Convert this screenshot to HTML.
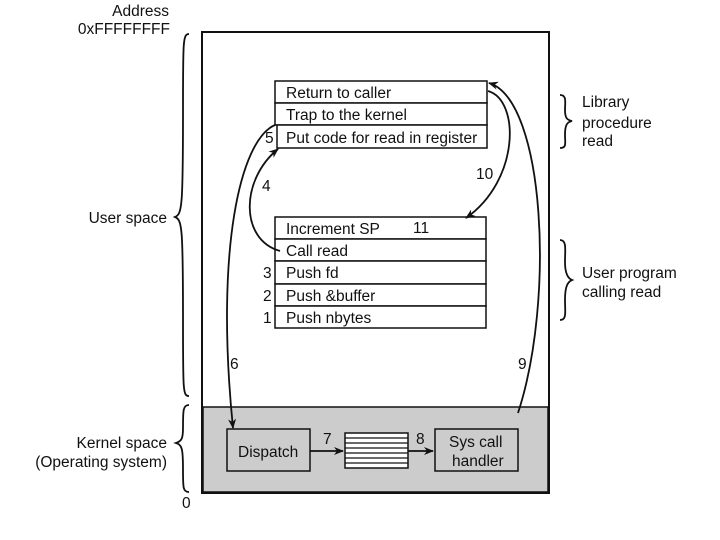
<!DOCTYPE html>
<html><head><style>body{margin:0;background:#fff}svg{display:block}text{font-family:"Liberation Sans",sans-serif;font-size:15.5px;fill:#111}</style></head><body>
<svg width="720" height="540" viewBox="0 0 720 540">
<defs><marker id="a" markerWidth="10" markerHeight="8" refX="9" refY="4" orient="auto" markerUnits="userSpaceOnUse"><path d="M0,0 L10,4 L0,8 L3,4z" fill="#111"/></marker></defs>
<rect x="202" y="32" width="347" height="461" fill="#fff" stroke="#111" stroke-width="2"/>
<rect x="203" y="407" width="345" height="85" fill="#cccccc" stroke="#111" stroke-width="1.5"/>
<g stroke="#111" stroke-width="1.5" fill="#fff">
<rect x="275" y="81" width="212" height="22"/><rect x="275" y="103" width="212" height="22"/><rect x="277" y="125" width="210" height="23"/>
<rect x="275" y="217" width="211" height="22"/><rect x="275" y="239" width="211" height="22"/><rect x="275" y="261" width="211" height="23"/><rect x="275" y="284" width="211" height="22"/><rect x="275" y="306" width="211" height="22"/>
</g>
<g stroke="#111" stroke-width="1.5" fill="#cccccc">
<rect x="227" y="429" width="83" height="42"/><rect x="435" y="429" width="83" height="42"/>
</g>
<rect x="345" y="433" width="63" height="35" fill="#fff" stroke="#111" stroke-width="1.5"/>
<g stroke="#111" stroke-width="1.2"><line x1="345" y1="438" x2="408" y2="438"/><line x1="345" y1="443" x2="408" y2="443"/><line x1="345" y1="448" x2="408" y2="448"/><line x1="345" y1="453" x2="408" y2="453"/><line x1="345" y1="458" x2="408" y2="458"/><line x1="345" y1="463" x2="408" y2="463"/></g>
<text x="286" y="98">Return to caller</text><text x="286" y="120">Trap to the kernel</text><text x="286" y="143">Put code for read in register</text><text x="265" y="143">5</text>
<text x="286" y="234">Increment SP</text><text x="413" y="233">11</text><text x="286" y="256">Call read</text>
<text x="286" y="278">Push fd</text><text x="286" y="301">Push &amp;buffer</text><text x="286" y="323">Push nbytes</text>
<text x="263" y="278">3</text><text x="263" y="301">2</text><text x="263" y="323">1</text>
<text x="238" y="457">Dispatch</text><text x="449" y="447">Sys call</text><text x="452" y="466">handler</text>
<text x="323" y="444">7</text><text x="416" y="444">8</text><text x="230" y="369">6</text><text x="518" y="369">9</text><text x="262" y="191">4</text><text x="476" y="179">10</text>
<g fill="none" stroke="#111" stroke-width="1.8">
<path d="M275,125 C240,140 215,250 233,428" marker-end="url(#a)"/>
<path d="M280,251 C240,240 240,180 278,149" marker-end="url(#a)"/>
<path d="M488,91 C520,100 520,180 466,218" marker-end="url(#a)"/>
<path d="M518,413 C555,300 545,100 489,83" marker-end="url(#a)"/>
<path d="M310,451 L343,451" marker-end="url(#a)"/>
<path d="M408,451 L433,451" marker-end="url(#a)"/>
<path d="M189,34 C183,34 183,40 183,110 C183,208 182,214 175,217 C182,220 183,226 183,320 C183,392 183,396 189,396"/>
<path d="M189,405 C183,405 183,410 183,428 C183,438 182,441 176,443 C182,445 183,448 183,470 C183,488 183,492 189,492"/>
<path d="M560,95 C567,95 565,102 565,110 C565,118 567,120 572,121 C567,122 565,125 565,135 C565,143 567,148 560,148"/>
<path d="M560,240 C567,240 565,250 565,262 C565,272 567,278 572,280 C567,282 565,288 565,300 C565,312 567,320 560,320"/>
</g>
<g text-anchor="end">
<text x="169" y="16">Address</text><text x="170" y="34">0xFFFFFFFF</text>
<text x="167" y="223">User space</text>
<text x="167" y="448">Kernel space</text><text x="167" y="467">(Operating system)</text></g>
<text x="182" y="508">0</text>
<text x="582" y="107">Library</text><text x="582" y="128">procedure</text><text x="582" y="146">read</text>
<text x="582" y="278">User program</text><text x="582" y="297">calling read</text>
</svg></body></html>
